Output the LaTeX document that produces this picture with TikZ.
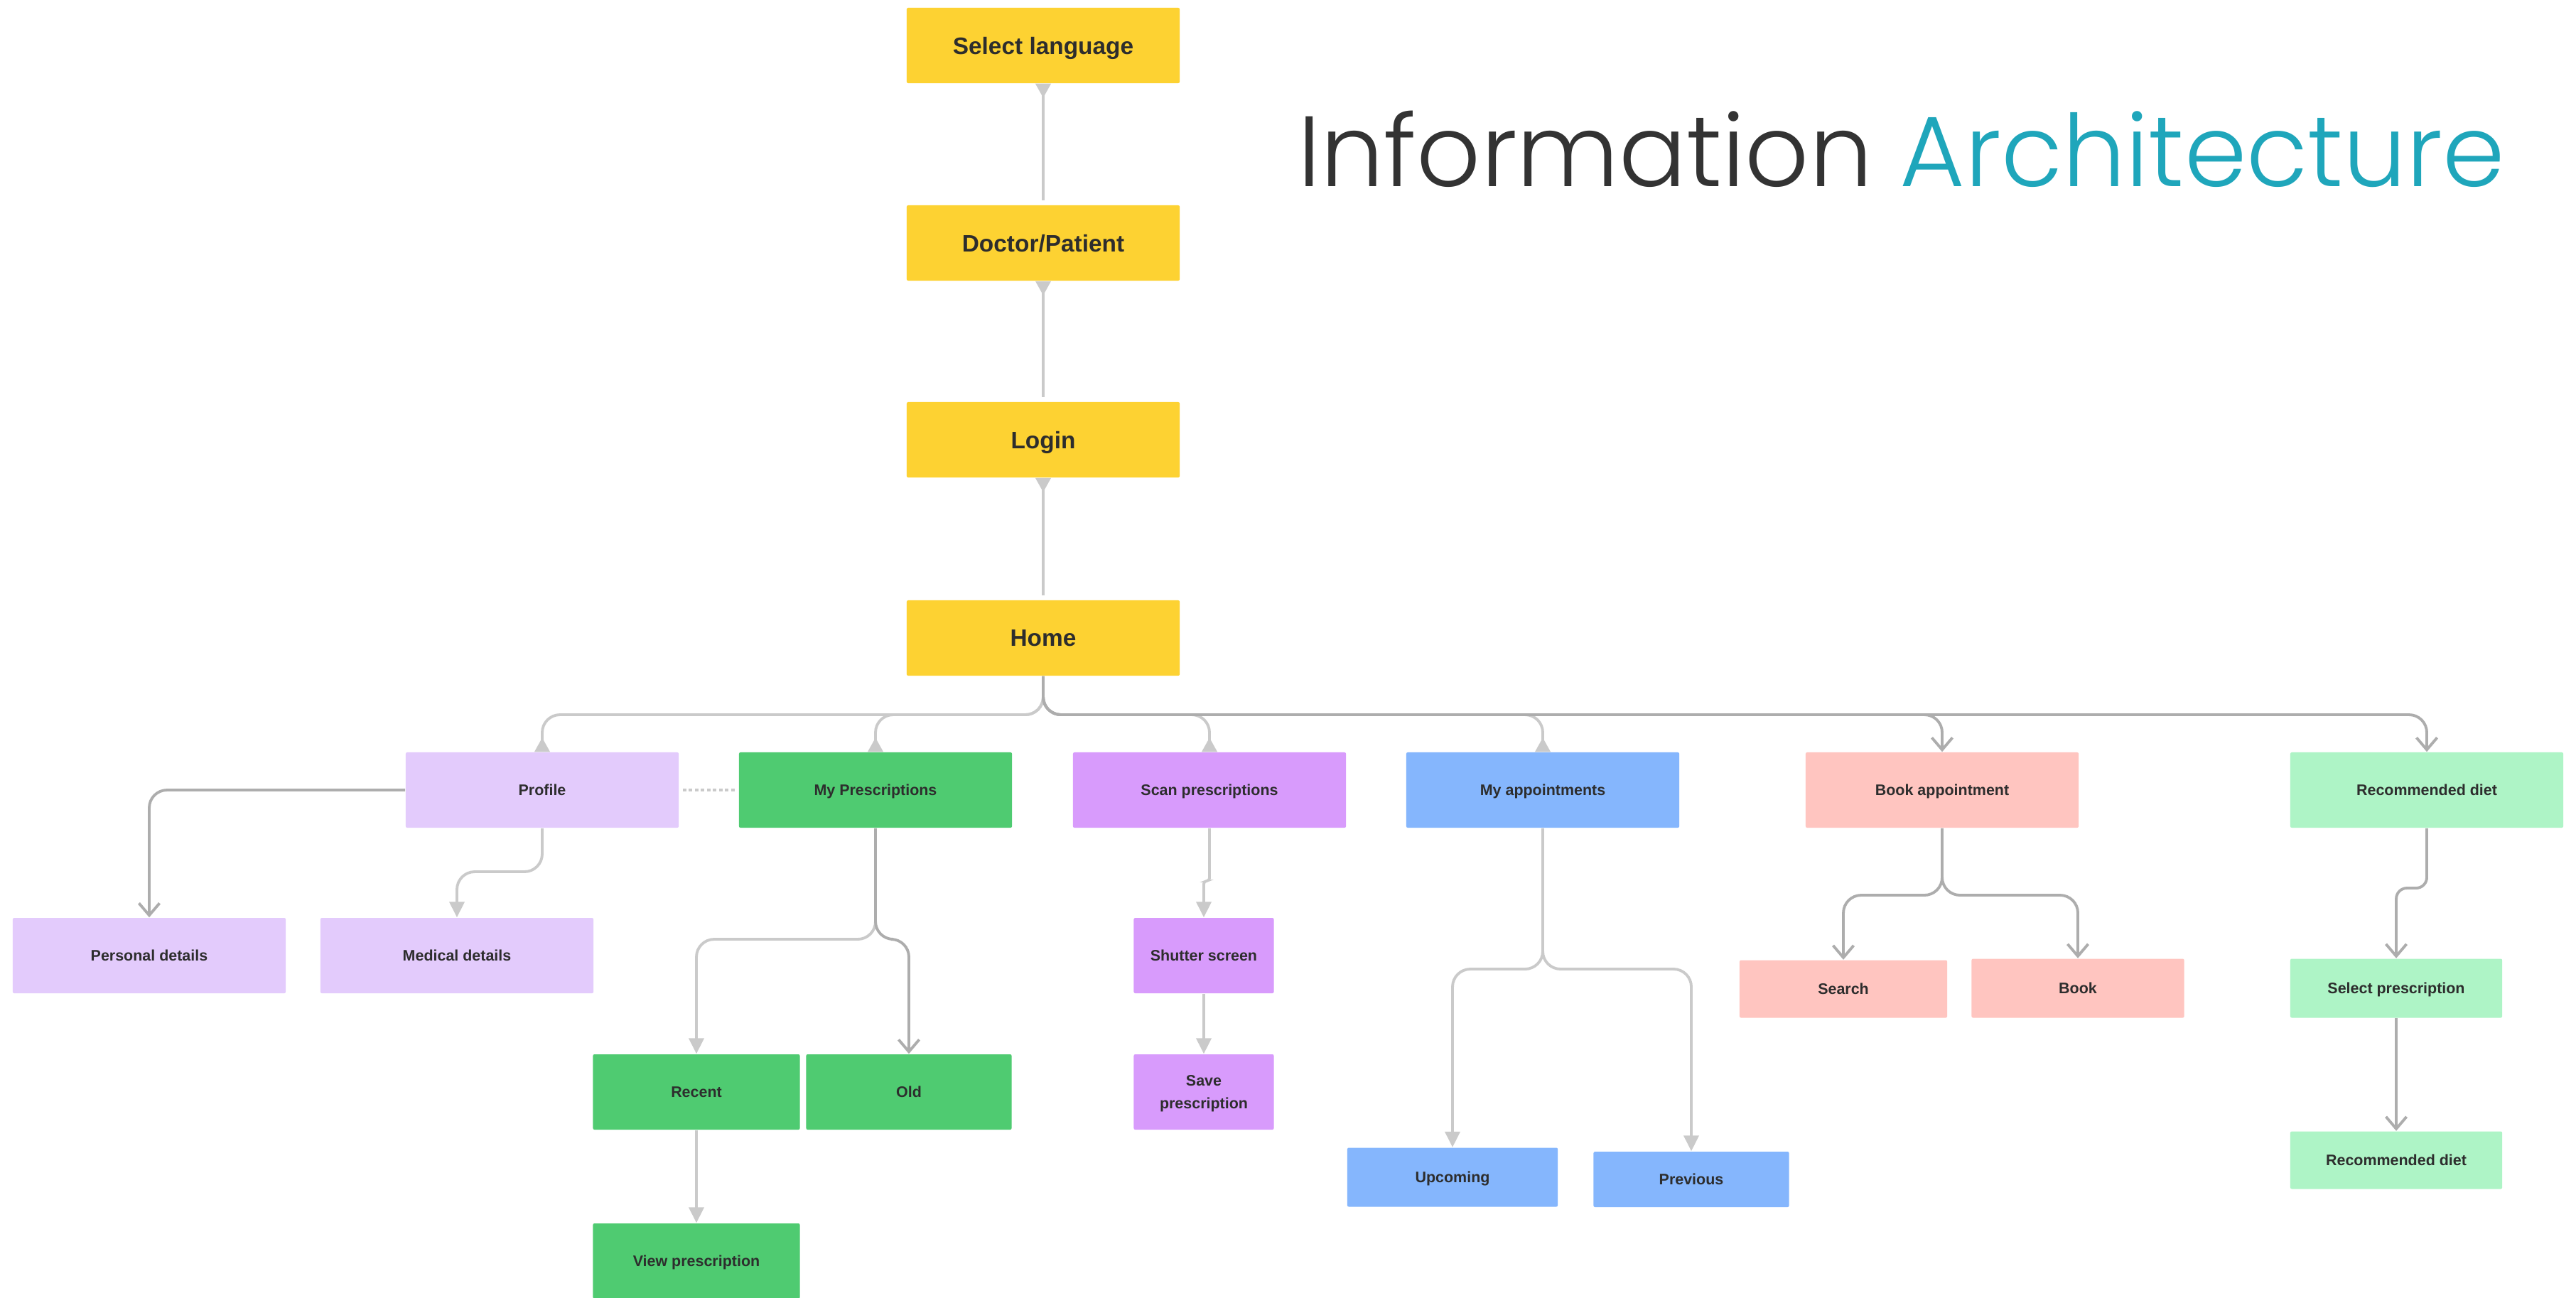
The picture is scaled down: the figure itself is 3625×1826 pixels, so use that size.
\documentclass[tikz,border=0pt]{standalone}
\usepackage{fontspec}
\setmainfont{Liberation Sans}
\newfontfamily\titlefont{Poppins Light}
\usetikzlibrary{arrows.meta}

\definecolor{yellowbox}{HTML}{FDD232}
\definecolor{lilacbox}{HTML}{E3CBFC}
\definecolor{leafbox}{HTML}{4FCB71}
\definecolor{scanbox}{HTML}{D89BFC}
\definecolor{skybox}{HTML}{85B6FD}
\definecolor{salmonbox}{HTML}{FFC5C0}
\definecolor{mintbox}{HTML}{AEF4C6}
\definecolor{ink}{HTML}{2D2D2D}
\definecolor{wire}{HTML}{CACACA}
\definecolor{darkwire}{HTML}{ADADAD}
\definecolor{titleink}{HTML}{333333}
\definecolor{titleteal}{HTML}{1FA6BB}

\tikzset{
  box/.style={rectangle, rounded corners=0.6pt, text=ink, inner sep=0pt, align=center,
    font=\fontsize{6.1}{8.5}\selectfont\bfseries, minimum width=3.84cm, minimum height=1.06cm,
    text depth=0pt},
  bigbox/.style={box, fill=yellowbox, font=\fontsize{9.5}{11}\selectfont\bfseries},
  link/.style={draw=wire, line width=1.1pt, rounded corners=0.25cm},
  darklink/.style={draw=darkwire, line width=1.1pt, rounded corners=0.25cm},
  filltip/.style={-{Triangle[length=2.2mm,width=2.1mm]}},
  backtip/.style={-{Triangle[reversed,length=2mm,width=2.1mm]}},
  starttip/.style={{Triangle[reversed,length=2mm,width=2.1mm]}-},
  opentip/.style={-{Straight Barb[length=1.7mm,width=2.9mm]}}
}

\begin{document}
\begin{tikzpicture}[x=0.01cm, y=-0.01cm]
  \fill[white] (0,0) rectangle (3625,1826);
  \useasboundingbox (0,0) rectangle (3625,1826);

  % Title
  \node[anchor=base west, inner sep=0pt, text=titleink, font=\titlefont\fontsize{40}{46}\selectfont] (title) at (1826,262) {Information \textcolor{titleteal}{Architecture}};

  % Main chain
  \node[bigbox] (sel) at (1468,64) {Select language};
  \node[bigbox] (doc) at (1468,342) {Doctor/Patient};
  \node[bigbox] (login) at (1468,619) {Login};
  \node[bigbox] (home) at (1468,898) {Home};

  % Sections
  \node[box, fill=lilacbox] (profile) at (763,1112) {Profile};
  \node[box, fill=leafbox] (mypres) at (1232,1112) {My Prescriptions};
  \node[box, fill=scanbox] (scan) at (1702,1112) {Scan prescriptions};
  \node[box, fill=skybox] (myapp) at (2171,1112) {My appointments};
  \node[box, fill=salmonbox] (bookapp) at (2733,1112) {Book appointment};
  \node[box, fill=mintbox] (recdiet) at (3415,1112) {Recommended diet};

  % Sub pages
  \node[box, fill=lilacbox] (personal) at (210,1345) {Personal details};
  \node[box, fill=lilacbox] (medical) at (643,1345) {Medical details};
  \node[box, fill=leafbox, minimum width=2.91cm] (recent) at (980,1537) {Recent};
  \node[box, fill=leafbox, minimum width=2.89cm] (old) at (1279,1537) {Old};
  \node[box, fill=leafbox, minimum width=2.91cm] (view) at (980,1775) {View prescription};
  \node[box, fill=scanbox, minimum width=1.97cm] (shutter) at (1694,1345) {Shutter screen};
  \node[box, fill=scanbox, minimum width=1.97cm, font=\fontsize{6.1}{9.2}\selectfont\bfseries] (save) at (1694,1537) {Save\\prescription};
  \node[box, fill=skybox, minimum width=2.96cm, minimum height=0.83cm] (upcoming) at (2044,1657) {Upcoming};
  \node[box, fill=skybox, minimum width=2.75cm, minimum height=0.78cm] (previous) at (2380,1660) {Previous};
  \node[box, fill=salmonbox, minimum width=2.92cm, minimum height=0.81cm] (search) at (2594,1392) {Search};
  \node[box, fill=salmonbox, minimum width=2.99cm, minimum height=0.83cm] (book) at (2924,1391) {Book};
  \node[box, fill=mintbox, minimum width=2.98cm, minimum height=0.83cm] (selpres) at (3372,1391) {Select prescription};
  \node[box, fill=mintbox, minimum width=2.98cm, minimum height=0.81cm] (recdiet2) at (3372,1633) {Recommended diet};

  % Chain links
  \draw[link, starttip, shorten >=0.06cm] (sel.south) -- (doc.north);
  \draw[link, starttip, shorten >=0.06cm] (doc.south) -- (login.north);
  \draw[link, starttip, shorten >=0.06cm] (login.south) -- (home.north);

  % Home to sections
  \draw[link, backtip] (home.south) -- (1468,1006) -| (profile.north);
  \draw[link, backtip] (home.south) -- (1468,1006) -| (mypres.north);
  \draw[link, backtip] (home.south) -- (1468,1006) -| (scan.north);
  \draw[link, backtip] (home.south) -- (1468,1006) -| (myapp.north);
  \draw[darklink, opentip] (home.south) -- (1468,1006) -| (bookapp.north);
  \draw[darklink, opentip] (home.south) -- (1468,1006) -| (recdiet.north);

  % Profile
  \draw[darklink, opentip] (profile.west) -| (personal.north);
  \draw[link, filltip] (profile.south) -- (763,1227) -| (medical.north);
  \draw[wire, line width=1.3pt, dash pattern=on 0.05cm off 0.035cm, shorten <=0.05cm, shorten >=0.05cm] (profile.east) -- (mypres.west);

  % My prescriptions
  \draw[link, filltip] (mypres.south) -- (1232,1322) -| (recent.north);
  \draw[darklink, opentip] (mypres.south) -- (1232,1322) -| (old.north);
  \draw[link, filltip] (recent.south) -- (view.north);

  % Scan
  \draw[link, filltip, rounded corners=0.04cm] (scan.south) -- (1702,1240) -| (shutter.north);
  \draw[link, filltip] (shutter.south) -- (save.north);

  % Appointments
  \draw[link, filltip] (myapp.south) -- (2171,1364) -| (upcoming.north);
  \draw[link, filltip] (myapp.south) -- (2171,1364) -| (previous.north);
  \draw[darklink, opentip] (bookapp.south) -- (2733,1260) -| (search.north);
  \draw[darklink, opentip] (bookapp.south) -- (2733,1260) -| (book.north);

  % Diet
  \draw[darklink, opentip, rounded corners=0.15cm] (recdiet.south) -- (3415,1250) -| (selpres.north);
  \draw[darklink, opentip] (selpres.south) -- (recdiet2.north);
\end{tikzpicture}
\end{document}
